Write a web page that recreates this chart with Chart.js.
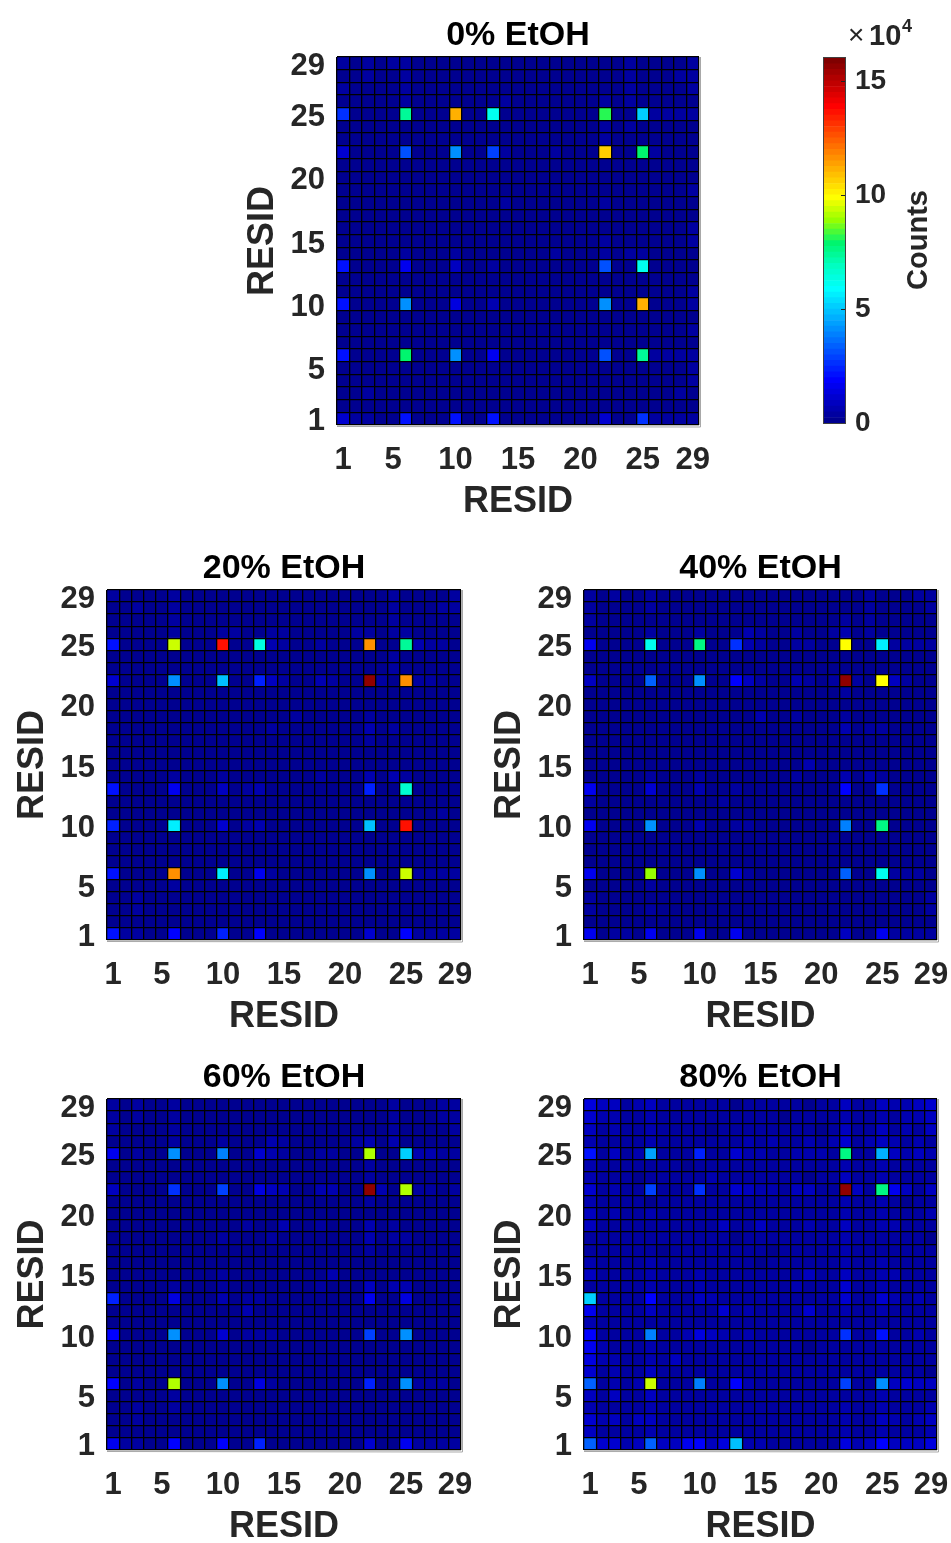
<!DOCTYPE html>
<html lang="en">
<head>
<meta charset="UTF-8">
<title>RESID contact counts vs EtOH</title>
<script src="https://cdn.jsdelivr.net/npm/chart.js"></script>
<style>
    html, body { margin: 0; padding: 0; background: #fff; overflow: hidden; }
    body { width: 951px; height: 1543px; position: relative; }
    canvas { position: absolute; }
</style>
</head>
<body>
<canvas id="p0"></canvas>
<canvas id="p20"></canvas>
<canvas id="p40"></canvas>
<canvas id="p60"></canvas>
<canvas id="p80"></canvas>
<canvas id="cbar"></canvas>
<script>
// residues on both axes
const residues = [1,2,3,4,5,6,7,8,9,10,11,12,13,14,15,16,17,18,19,20,21,22,23,24,25,26,27,28,29];
const tickResidues = [1,5,10,15,20,25,29];
const colorbarTicks = [0,5,10,15];   // x10^4
const countMax = 160000;

// strong contacts: rows (y residue) x cols (x residue), in thousands of counts
const hotRows = [25,22,13,10,6,1];
const hotCols = [1,6,10,13,22,25];
const hot0  = [[26,74,112,62,81,50],[11,32,42,28,107,79],[20,16,8,3,30,60],[20,42,14,7,42,112],[22,79,42,16,32,74],[11,20,20,20,12,25]];
const hot20 = [[21,93,135,64,115,74],[11,40,48,23,157,116],[21,15,9,6,24,65],[24,55,11,6,48,135],[21,115,55,16,40,93],[22,19,24,19,11,19]];
const hot40 = [[17,60,75,25,98,55],[9,33,40,19,157,98],[17,12,7,4,19,25],[17,40,7,4,39,76],[17,89,42,11,33,60],[16,17,17,17,9,17]];
const hot60 = [[17,42,39,12,91,51],[9,25,28,14,156,91],[24,14,7,4,16,14],[19,42,11,4,28,40],[19,91,42,14,24,42],[17,19,19,24,11,16]];
const hot80 = [[21,44,24,12,77,45],[12,28,25,12,156,77],[50,19,9,4,12,12],[19,39,14,4,25,21],[33,93,39,19,28,42],[33,33,19,48,14,19]];

// background counts, one base-36 digit per cell (thousands), rows 29 -> 1
const bg0 = [
 "31313 31111 11111 11111 11131 1113","11311 31111 11111 11111 11131 1133","31111 31111 11111 11111 11131 1113",
 "11111 31111 11131 11111 13131 1111","11111 11111 11111 11111 11111 3333","11111 11111 11111 11111 13131 1111",
 "11111 11111 11111 11111 13111 1111","11111 11111 11131 11311 11111 3111","11111 11111 11111 11111 11111 1111",
 "11111 11111 11111 11111 11111 1111","11111 11111 11111 11111 11111 1113","11111 11111 11131 11111 13111 1111",
 "11111 11111 11111 11111 11111 1111","11111 11111 11111 11111 11111 1113","11111 11111 11111 11111 13111 1113",
 "11111 31113 11111 11311 13133 1111","11111 11111 11111 11111 11111 1111","11111 11111 11111 11111 11111 1111",
 "11111 11111 11111 11111 11111 1113","11111 11111 11111 11111 11111 1113","11111 11111 11111 11111 11111 1111",
 "11111 11111 11111 11111 11111 1113","11111 11111 11111 11111 11111 1111","11111 11111 11111 11111 11111 3333",
 "11111 11111 11111 11111 11111 1113","11111 11111 11111 11111 11111 1113","11311 11111 11111 11111 11111 1131",
 "11111 11111 11111 11111 11111 1111","13311 11111 11111 11111 11111 3333"];
const bg20 = [
 "31111 31111 11111 11111 11131 1113","11311 31111 11111 11111 11131 1133","11111 31111 11111 11111 11131 1111",
 "11111 31113 31133 11111 33133 1111","11111 11111 11163 11311 11111 6331","11111 11111 11111 11111 11131 1111",
 "11111 11111 11111 11111 11131 1111","11111 11111 11183 11631 11311 3311","11111 11111 11111 11111 11111 1111",
 "11111 11111 11111 11111 11111 1111","11111 11111 11111 31111 13111 1111","11111 11111 11131 11111 16131 1111",
 "11111 11111 11111 11111 13111 1111","11111 11111 11111 11111 11111 1111","11111 11111 11111 11111 11111 1111",
 "11111 31113 11111 11311 16163 1111","11111 11111 13111 11111 11111 1111","11111 11111 11111 11111 11111 1111",
 "11111 11111 11111 11111 11111 1131","11111 11111 13111 11111 11111 1111","11111 11111 11111 11111 11111 1111",
 "11111 11111 11111 11111 11111 1111","11111 11111 11111 11111 11111 1111","11111 11111 11131 11111 11111 3333",
 "11111 31111 11111 11111 11111 1111","11311 11111 11111 11111 11111 1111","11311 11111 11111 11111 11111 1111",
 "11111 11111 11111 11111 11111 1111","13311 11111 11111 11111 11111 3333"];
const bg40 = [
 "31311 31111 11111 11111 11131 1133","31111 31111 11111 11111 11131 1113","31111 11111 11111 11111 13131 1111",
 "11111 31113 11163 11311 36131 1111","11111 11111 11163 11331 11111 3333","11111 11111 11111 11111 11111 1111",
 "11111 11111 11111 11111 11111 1111","11111 11111 11183 11631 31311 8311","11111 11111 11111 11111 13111 1111",
 "11111 11111 11111 11111 11111 1111","11111 11111 11116 11311 13111 1111","11111 11111 11111 11111 16133 1111",
 "11111 11111 11111 11111 11111 1111","11111 11111 11111 11111 11111 1111","11111 11111 11111 11161 11111 1111",
 "11111 31113 11111 11311 16163 1111","11111 11111 11111 11111 11111 1111","31111 11111 13111 11111 11111 1111",
 "11111 11111 11111 11111 11111 1111","11111 11111 11131 11111 11111 1111","11111 11111 11111 11111 11111 1111",
 "11111 11111 11111 11111 11111 1111","11111 11111 11111 11111 11111 1111","11111 11111 11131 11111 11111 3331",
 "11111 31111 11111 11111 11111 1111","31111 11111 11111 11111 11111 1113","31111 31111 11111 11111 11111 1113",
 "11111 11111 11111 11111 11111 1111","11331 11111 11111 11111 11111 3333"];
const bg60 = [
 "31311 31111 11111 11111 11131 1133","31311 31111 11111 11111 11131 1133","31111 31111 11111 11111 11131 1113",
 "11111 31113 11163 11111 36161 1111","11311 11111 11163 11331 11111 6633","11111 11111 11111 11111 13111 1111",
 "11111 11111 11111 11111 13111 1111","11111 11111 11186 11661 11611 3313","11111 11111 11111 11111 13111 1111",
 "11111 11111 11111 11111 11111 1111","11111 11111 13116 11311 16131 1111","11111 11113 11131 11111 16133 1111",
 "11111 11111 11111 11111 13111 1111","11111 11111 11111 11111 11111 1111","11111 11113 11111 11161 11111 1111",
 "11111 31113 11111 11311 18166 1111","11111 11111 13111 11111 11111 1111","11111 11111 16111 11111 11111 1111",
 "11111 11111 11111 11111 11111 1111","11111 11111 13131 11111 11111 1111","11111 11111 11111 11111 11111 1111",
 "11111 11111 11111 11111 11111 1111","11111 11111 11111 11111 11111 1111","11311 11111 11131 11111 11111 3331",
 "11111 31111 11111 11111 11111 1111","11311 31111 11111 11111 11111 1111","11311 11111 11111 11111 11111 1111",
 "11111 11111 11111 11111 11111 1111","13311 11111 11111 11111 11111 3333"];
const bg80 = [
 "d8836 83333 33133 33313 38338 668b","b6633 63333 33333 31333 36336 3668","83633 63333 13333 33331 38338 3638",
 "63333 63333 33363 63363 6b368 6363","33836 33333 33366 33666 33333 8686","63333 33313 33333 33333 36336 3333",
 "63331 33333 63333 33313 38336 3333","33633 33333 33386 63883 33833 g838","63333 13333 33333 33333 36336 3133",
 "83633 63333 33333 33333 36336 3336","83333 33333 38338 33363 38336 6333","33333 33333 33133 33333 36333 3331",
 "33333 31333 33333 13333 36333 3333","63333 63333 33331 33333 36336 3333","83333 63336 33333 33383 38336 6333",
 "33333 63336 33333 33633 3b336 3333","33333 33333 63333 33333 33333 6363","g3333 83333 3b363 333b3 36336 3333",
 "63333 33333 33333 33333 33333 3333","33333 33363 86863 33333 33333 3363","g6333 63333 33333 33313 33333 3333",
 "d6633 63833 33333 33333 33333 3333","b3633 83333 33333 33333 33333 3331","33636 33333 33363 33333 33333 8b88",
 "83833 83333 33333 33333 33336 3333","63333 63333 33333 33333 36336 3336","b6838 83333 33333 33333 36338 6368",
 "83333 63333 33333 33333 36336 3336","3bb68 388g3 8d366 33333 33686 888d"];

// colormap look (jet-like, as printed in the figure)
const cmapStops = [
    [0, [0,0,128]], [0.125, [0,0,255]], [0.25, [0,128,255]], [0.375, [0,255,255]],
    [0.44, [0,255,190]], [0.5, [0,245,110]], [0.5625, [150,255,0]], [0.625, [255,255,0]],
    [0.75, [255,128,0]], [0.875, [255,0,0]], [1, [128,0,0]]
];

Chart.defaults.font.family = "'Liberation Sans', Arial, Helvetica, sans-serif";
const FONT = "'Liberation Sans', Arial, Helvetica, sans-serif";

// 64-level colormap, indexed like a scaled image
function jet(v) {
    let i = Math.floor(v / countMax * 64) + 1;
    i = Math.max(1, Math.min(64, i));
    const t = i / 64;
    let k = 1;
    while (k < cmapStops.length - 1 && cmapStops[k][0] < t) k++;
    const [t0, c0] = cmapStops[k - 1], [t1, c1] = cmapStops[k];
    const f = (t - t0) / (t1 - t0);
    const ch = n => Math.round(c0[n] + (c1[n] - c0[n]) * f);
    return 'rgb(' + ch(0) + ',' + ch(1) + ',' + ch(2) + ')';
}

function buildMatrix(bg, hot) {
    const m = {};
    bg.forEach((line, i) => {
        m[29 - i] = line.replace(/ /g, '').split('').map(ch => parseInt(ch, 36) * 1000);
    });
    hotRows.forEach((r, i) => hotCols.forEach((c, j) => { m[r][c - 1] = hot[i][j] * 1000; }));
    return m;
}

const edgePlugin = {
    id: 'edge',
    afterDraw(chart) {
        const {ctx, chartArea: a} = chart;
        ctx.save();
        ctx.strokeStyle = '#a8a8a8';
        ctx.lineWidth = 1;
        ctx.beginPath();
        ctx.moveTo(Math.round(a.right) + 1.5, a.top);
        ctx.lineTo(Math.round(a.right) + 1.5, Math.round(a.bottom) + 2);
        ctx.lineTo(a.left, Math.round(a.bottom) + 1.5);
        ctx.stroke();
        ctx.restore();
    }
};

function makePanel(id, title, bg, hot, box) {
    const W = 105, TOP = 57, BOT = 100, RIGHT = 20;
    const cv = document.getElementById(id);
    cv.width = W + box.R - box.L + RIGHT;
    cv.height = TOP + box.B - box.T + BOT;
    cv.style.left = (box.L - W) + 'px';
    cv.style.top = (box.T - TOP) + 'px';
    const m = buildMatrix(bg, hot);
    const datasets = residues.map(r => ({
        data: residues.map(() => 1),
        backgroundColor: m[r].map(jet),
        borderWidth: 0,
        barPercentage: 1,
        categoryPercentage: 1
    }));
    new Chart(cv, {
        type: 'bar',
        data: { labels: residues.map(String), datasets },
        plugins: [edgePlugin],
        options: {
            responsive: false,
            animation: false,
            events: [],
            layout: { padding: { left: 0, top: 0, right: RIGHT, bottom: 0 } },
            plugins: {
                legend: { display: false },
                tooltip: { enabled: false },
                title: {
                    display: true, text: title, fullSize: false, color: '#000',
                    font: { size: 34, weight: 'bold' },
                    padding: { top: 15, bottom: 1.2 }
                }
            },
            scales: {
                x: {
                    stacked: true,
                    grid: { display: true, z: 1, color: '#000', lineWidth: 1.3, offset: true, drawTicks: false },
                    border: { display: false },
                    ticks: {
                        autoSkip: false, maxRotation: 0, minRotation: 0, padding: 17,
                        color: '#262626', font: { size: 31, weight: 'bold' },
                        callback: (v, i) => tickResidues.includes(residues[i]) ? String(residues[i]) : ''
                    },
                    title: { display: true, text: 'RESID', color: '#262626', font: { size: 36, weight: 'bold' }, padding: { top: 0, bottom: 1 } },
                    afterFit: s => { s.height = BOT; s.paddingLeft = 0; s.paddingRight = 0; }
                },
                y: {
                    stacked: true, min: 0, max: 29,
                    grid: { display: false, drawTicks: false },
                    border: { display: false },
                    afterBuildTicks: s => { s.ticks = tickResidues.map(r => ({ value: r - 0.5 })); },
                    ticks: {
                        padding: 12, labelOffset: 3, color: '#262626', font: { size: 31, weight: 'bold' },
                        callback: v => String(v + 0.5)
                    },
                    title: { display: true, text: 'RESID', color: '#262626', font: { size: 36, weight: 'bold' }, padding: { top: 9, bottom: 0 } },
                    afterFit: s => { s.width = W; s.paddingTop = 0; s.paddingBottom = 0; }
                },
                yGrid: {
                    position: 'left', min: 0, max: 29,
                    grid: { display: true, z: 1, color: '#000', lineWidth: 1.3, drawTicks: false },
                    border: { display: false },
                    ticks: { display: false, stepSize: 1 },
                    afterFit: s => { s.width = 0; s.paddingTop = 0; s.paddingBottom = 0; }
                }
            }
        }
    });
}

makePanel('p0',  '0% EtOH',  bg0,  hot0,  { L: 337, T: 57,   R: 699, B: 425 });
makePanel('p20', '20% EtOH', bg20, hot20, { L: 107, T: 590,  R: 461, B: 940 });
makePanel('p40', '40% EtOH', bg40, hot40, { L: 584, T: 590,  R: 937, B: 940 });
makePanel('p60', '60% EtOH', bg60, hot60, { L: 107, T: 1099, R: 461, B: 1450 });
makePanel('p80', '80% EtOH', bg80, hot80, { L: 584, T: 1099, R: 937, B: 1450 });

// colorbar
const CB = { left: 800, top: 0, width: 151, height: 450 };
const cbCanvas = document.getElementById('cbar');
cbCanvas.width = CB.width; cbCanvas.height = CB.height;
cbCanvas.style.left = CB.left + 'px'; cbCanvas.style.top = CB.top + 'px';

const levels = Array.from({ length: 64 }, (_, i) => i);
const cbPlugin = {
    id: 'cbDecor',
    afterDraw(chart) {
        const { ctx, chartArea: a } = chart;
        const y = chart.scales.y;
        ctx.save();
        ctx.strokeStyle = '#404040';
        ctx.lineWidth = 1;
        ctx.strokeRect(Math.round(a.left) - 0.5, Math.round(a.top) - 0.5, Math.round(a.right - a.left) + 1, Math.round(a.bottom - a.top) + 1);
        ctx.strokeStyle = '#222';
        ctx.beginPath();
        colorbarTicks.slice(1).forEach(t => {
            const py = Math.round(y.getPixelForValue(t * 1e4)) + 0.5;
            ctx.moveTo(a.right - 4, py);
            ctx.lineTo(a.right, py);
        });
        ctx.stroke();
        ctx.fillStyle = '#262626';
        ctx.textBaseline = 'alphabetic';
        ctx.textAlign = 'left';
        ctx.font = '28px ' + FONT;
        ctx.fillText('\u00d7', 848 - CB.left, 44);
        ctx.font = 'bold 29px ' + FONT;
        ctx.fillText('10', 869 - CB.left, 45);
        ctx.font = 'bold 18px ' + FONT;
        ctx.fillText('4', 902 - CB.left, 32);
        ctx.font = 'bold 29px ' + FONT;
        ctx.translate(927 - CB.left, 240);
        ctx.rotate(-Math.PI / 2);
        ctx.textAlign = 'center';
        ctx.fillText('Counts', 0, 0);
        ctx.restore();
    }
};

new Chart(cbCanvas, {
    type: 'bar',
    data: {
        labels: [''],
        datasets: levels.map(i => ({
            data: [countMax / 64],
            backgroundColor: jet((i + 0.5) * countMax / 64),
            borderWidth: 0,
            barPercentage: 1,
            categoryPercentage: 1
        }))
    },
    plugins: [cbPlugin],
    options: {
        responsive: false,
        animation: false,
        events: [],
        layout: { padding: { left: 24, top: 58, right: 0, bottom: 25 } },
        plugins: { legend: { display: false }, tooltip: { enabled: false } },
        scales: {
            x: { display: false, stacked: true },
            y: {
                position: 'right', stacked: true, min: 0, max: countMax,
                grid: { display: false, drawTicks: false },
                border: { display: false },
                afterBuildTicks: s => { s.ticks = colorbarTicks.map(t => ({ value: t * 1e4 })); },
                ticks: { padding: 10, color: '#262626', font: { size: 28, weight: 'bold' }, callback: v => String(v / 1e4) },
                afterFit: s => { s.width = 106; }
            }
        }
    }
});
</script>
</body>
</html>
